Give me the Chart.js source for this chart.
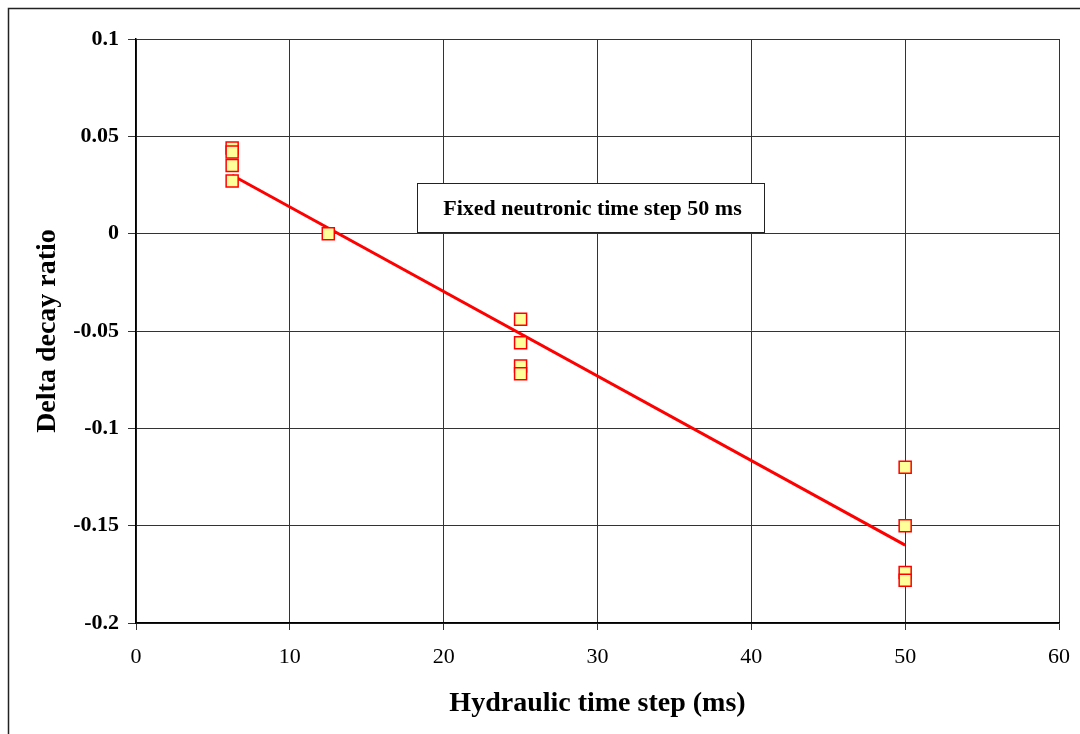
<!DOCTYPE html>
<html>
<head>
<meta charset="utf-8">
<script src="https://cdn.jsdelivr.net/npm/chart.js@4"></script>
<style>
  html, body { margin: 0; padding: 0; background: #fff; overflow: hidden; }
  #wrap { width: 1080px; height: 734px; position: relative; }
</style>
</head>
<body>
<div id="wrap"><canvas id="myChart" width="1080" height="734"></canvas></div>
<script>
// Data
const stepX = [6.25, 6.25, 6.25, 6.25, 12.5, 25, 25, 25, 25, 50, 50, 50, 50];
const decayY = [0.044, 0.042, 0.035, 0.027, 0.0, -0.044, -0.056, -0.068, -0.072, -0.12, -0.15, -0.174, -0.178];
const trendX = [6.25, 50];
const trendY = [0.030, -0.160];
const noteText = 'Fixed neutronic time step 50 ms';

const serif = "'Liberation Serif', 'Times New Roman', serif";

// Frame around the whole chart and the note box
const extrasPlugin = {
  id: 'extras',
  afterDraw(chart) {
    const ctx = chart.ctx;
    ctx.save();
    ctx.strokeStyle = '#222';
    ctx.lineWidth = 1.5;
    ctx.strokeRect(8.5, 8.5, 1200, 900);

    // note box
    const bx = 417, by = 183, bw = 347, bh = 49;
    ctx.fillStyle = '#fff';
    ctx.fillRect(bx, by, bw, bh);
    ctx.strokeStyle = '#222';
    ctx.lineWidth = 1;
    ctx.strokeRect(bx + 0.5, by + 0.5, bw, bh);
    ctx.fillStyle = '#000';
    ctx.font = 'bold 22px ' + serif;
    ctx.textAlign = 'center';
    ctx.textBaseline = 'middle';
    ctx.fillText(noteText, bx + bw / 2 + 2, by + bh / 2 + 2);
    ctx.restore();
  }
};

const ctx1 = document.getElementById('myChart').getContext('2d');

const chart1 = new Chart(ctx1, {
  type: 'scatter',
  data: {
    datasets: [
      {
        label: 'Trend',
        type: 'line',
        data: trendX.map((x, i) => ({ x: x, y: trendY[i] })),
        borderColor: '#ff0000',
        borderWidth: 3,
        pointRadius: 0,
        fill: false,
        order: 2
      },
      {
        label: 'Delta decay ratio',
        data: stepX.map((x, i) => ({ x: x, y: decayY[i] })),
        pointStyle: 'rect',
        pointRadius: 8.5,
        pointBackgroundColor: '#ffff99',
        pointBorderColor: '#ff0000',
        pointBorderWidth: 1.5,
        order: 1
      }
    ]
  },
  options: {
    responsive: false,
    animation: false,
    layout: { padding: { left: 0, top: 39, right: 21, bottom: 0 } },
    plugins: {
      legend: { display: false },
      tooltip: { enabled: false }
    },
    scales: {
      x: {
        type: 'linear',
        min: 0,
        max: 60,
        afterFit(scale) {
          scale.height = 111;
          scale.paddingLeft = 0;
          scale.paddingRight = 0;
        },
        ticks: {
          stepSize: 10,
          color: '#000',
          font: { family: serif, size: 22 },
          padding: 14
        },
        grid: { color: '#333', lineWidth: 1, tickLength: 7 },
        border: { color: '#000', width: 1.5 },
        title: {
          display: true,
          text: 'Hydraulic time step (ms)',
          color: '#000',
          font: { family: serif, size: 28, weight: 'bold' },
          padding: 13
        }
      },
      y: {
        min: -0.2,
        max: 0.1,
        afterFit(scale) {
          scale.width = 136;
          scale.paddingTop = 0;
          scale.paddingBottom = 0;
        },
        ticks: {
          stepSize: 0.05,
          color: '#000',
          font: { family: serif, size: 22, weight: 'bold' },
          padding: 9,
          callback: v => {
            const r = Math.round(v * 100) / 100;
            return r === 0 ? '0' : String(r);
          }
        },
        grid: { color: '#333', lineWidth: 1, tickLength: 8 },
        border: { color: '#000', width: 1.5 },
        title: {
          display: true,
          text: 'Delta decay ratio',
          color: '#000',
          font: { family: serif, size: 28, weight: 'bold' },
          padding: 31
        }
      }
    }
  },
  plugins: [extrasPlugin]
});
</script>
</body>
</html>
